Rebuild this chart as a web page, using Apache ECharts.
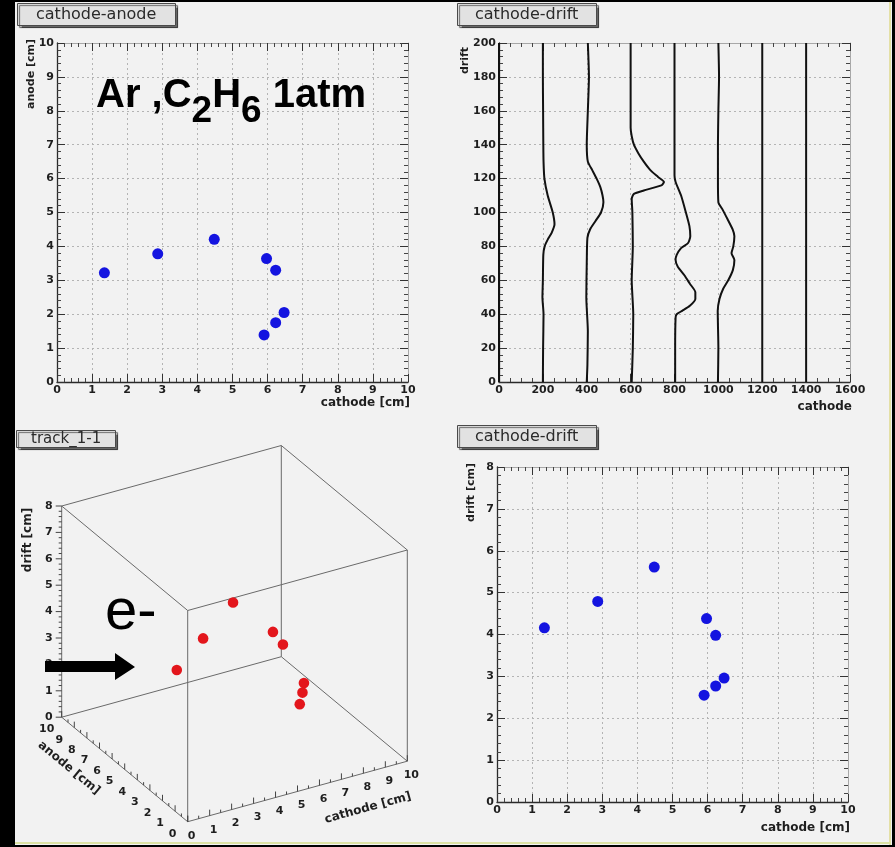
<!DOCTYPE html>
<html>
<head>
<meta charset="utf-8">
<script src="https://cdn.jsdelivr.net/npm/echarts@6/dist/echarts.min.js"></script>
<style>
html, body { margin: 0; padding: 0; background: #000; }
#chart { width: 895px; height: 847px; }
</style>
</head>
<body>
<div id="chart"></div>
<script>
// hits in the chamber [cm]
const cathode = [1.35, 2.87, 4.48, 5.97, 6.23, 6.47, 6.23, 5.9];
const anode = [3.22, 3.78, 4.21, 3.64, 3.30, 2.05, 1.75, 1.39];
const drift = [4.16, 4.79, 5.61, 4.38, 3.98, 2.96, 2.77, 2.55];

// cathode strip signals, [cathode, drift]
const wire0 = [[0, 0], [0, 200]];
const wire200 = [[200, 200], [200, 180], [201, 160], [202, 140], [203, 130], [207, 120], [222, 110], [245, 100], [253, 93], [240, 88], [222, 84], [208, 80], [202, 75], [200, 60], [198, 50], [203, 40], [201, 20], [200, 0]];
const wire400 = [[405, 200], [410, 180], [405, 160], [400, 140], [405, 130], [425, 125], [445, 120], [462, 115], [472, 110], [476, 106], [465, 100], [440, 95], [415, 90], [403, 85], [400, 70], [398, 50], [405, 30], [403, 10], [400, 0]];
const wire600 = [[600, 200], [600, 150], [605, 145], [615, 140], [635, 135], [660, 130], [690, 125], [725, 121], [752, 118], [740, 116], [660, 113], [615, 111], [605, 108], [608, 100], [610, 80], [605, 60], [612, 40], [610, 20], [605, 0]];
const wire800 = [[800, 200], [800, 160], [800, 140], [800, 122], [805, 118], [830, 110], [852, 100], [868, 92], [872, 86], [862, 82], [830, 79], [810, 75], [805, 72], [815, 68], [845, 63], [870, 58], [895, 53], [895, 49], [870, 45], [835, 42], [810, 40], [805, 38], [803, 20], [803, 0]];
const wire1000 = [[1000, 200], [1003, 180], [1000, 160], [998, 140], [998, 120], [1000, 106], [1018, 102], [1042, 96], [1065, 90], [1073, 86], [1068, 80], [1060, 76], [1073, 72], [1066, 66], [1045, 60], [1022, 55], [1005, 49], [997, 42], [1000, 20], [998, 0]];
const wire1200 = [[1200, 0], [1200, 200]];
const wire1400 = [[1400, 0], [1400, 200]];

// 3D axis labels
const driftLabels = [0, 1, 2, 3, 4, 5, 6, 7, 8];
const anodeLabels = [0, 1, 2, 3, 4, 5, 6, 7, 8, 9, 10];
const cathodeLabels = [0, 1, 2, 3, 4, 5, 6, 7, 8, 9, 10];

const chart = echarts.init(document.getElementById('chart'));

const tickFont = { fontFamily: 'DejaVu Sans', fontWeight: 'bold', fontSize: 11, color: '#1e1e1e' };
const nameFont = { fontFamily: 'DejaVu Sans', fontWeight: 'bold', fontSize: 12, color: '#1e1e1e' };

function frame(grid, min, max, step, minorSplit, side) {
  const labelled = side === 'bottom' || side === 'left';
  return {
    type: 'value', gridIndex: grid, position: side, min: min, max: max, interval: step,
    axisLine: { show: true, onZero: false, lineStyle: { color: labelled ? '#2a2a2a' : '#a8a8a8', width: labelled ? 1.3 : 1 } },
    axisTick: { show: true, inside: true, length: 8, lineStyle: { color: '#333' } },
    minorTick: { show: true, splitNumber: minorSplit, length: 4, lineStyle: { color: '#444' } },
    axisLabel: labelled ? Object.assign({ margin: 3, showMinLabel: true, showMaxLabel: true, hideOverlap: false,
      formatter: v => String(v) }, tickFont) : { show: false },
    splitLine: { show: labelled, lineStyle: { color: '#b4b4b4', type: [2, 3] } }
  };
}
function xName(text, drop) {
  return { name: text, nameLocation: 'end', nameGap: 2, nameMoveOverlap: false,
    nameTextStyle: Object.assign({ align: 'right', verticalAlign: 'top', padding: [drop, 0, 0, 0] }, nameFont) };
}
function yName(text, gap, shift) {
  return { name: text, nameLocation: 'end', nameGap: gap, nameRotate: 90, nameMoveOverlap: false,
    nameTextStyle: Object.assign({ align: 'right', verticalAlign: 'bottom', padding: [0, 0, shift, 0] }, tickFont) };
}

// oblique projection of the 3D box (panel track_1-1)
const box3d = { origin: [172.7, 391.7], stepC: [21.96, -6.05], stepA: [-12.6, -10.45], stepD: [0, -26.4] };
function project(api, c, a, d) {
  return api.coord([
    box3d.origin[0] + c * box3d.stepC[0] + a * box3d.stepA[0] + d * box3d.stepD[0],
    box3d.origin[1] + c * box3d.stepC[1] + a * box3d.stepA[1] + d * box3d.stepD[1]
  ]);
}
const cRange = [0, 10], aRange = [0, 10], dRange = [0, 8];
const corners = [];
cRange.forEach(c => aRange.forEach(a => dRange.forEach(d => corners.push([c, a, d]))));
const edges = [];
corners.forEach((p, i) => corners.forEach((q, j) => {
  if (j > i && p.filter((v, k) => v !== q[k]).length === 1) edges.push(p.concat(q));
}));
const ticks3d = [];
for (let i = 0; i <= 40; i++) ticks3d.push([0, i / 5, i % 5 === 0 ? 1 : 0]);
for (let i = 0; i <= 20; i++) ticks3d.push([1, i / 2, i % 2 === 0 ? 1 : 0]);
for (let i = 0; i <= 20; i++) ticks3d.push([2, i / 2, i % 2 === 0 ? 1 : 0]);
const labels3d = driftLabels.map(v => [0, v]).concat(anodeLabels.map(v => [1, v]), cathodeLabels.map(v => [2, v]));

const wireSeries = [wire0, wire200, wire400, wire600, wire800, wire1000, wire1200, wire1400].map(w => ({
  type: 'line', xAxisIndex: 2, yAxisIndex: 2, data: w, showSymbol: false, smooth: 0.2,
  lineStyle: { color: '#111', width: 2 }, z: 3
}));

// annotation "Ar ,C2H6 1atm"
const ctx = document.createElement('canvas').getContext('2d');
const noteParts = [['Ar ,C', 0], ['2', 1], ['H', 0], ['6', 1], [' 1atm', 0]];
let noteX = 96;
const noteTexts = noteParts.map(function (part) {
  const size = part[1] ? 37 : 40;
  const font = 'bold ' + size + 'px "Liberation Sans"';
  ctx.font = font;
  const el = { type: 'text', x: noteX, y: (part[1] ? 125 : 110) - 0.35 * size, z: 100,
    style: { text: part[0], font: font, fill: '#000', align: 'left', verticalAlign: 'middle' } };
  noteX += ctx.measureText(part[0]).width;
  return el;
});

const boxTitle = {
  backgroundColor: '#e2e2e2', borderColor: '#4a4a4a', borderWidth: 1,
  shadowColor: 'rgba(0,0,0,0.55)', shadowOffsetX: 2, shadowOffsetY: 2, shadowBlur: 1
};
function titleBox(text, left, top, size, pad) {
  return Object.assign({ text: text, left: left, top: top, padding: pad,
    textStyle: { fontFamily: 'DejaVu Sans', fontWeight: 'normal', fontSize: size, lineHeight: size + 3, color: '#2a2a2a' } }, boxTitle);
}

const title3d = { font: 'bold 12px "DejaVu Sans"', fill: '#1e1e1e', align: 'center', verticalAlign: 'middle' };
const pointStyle = { color: '#1414e0', opacity: 1 };

chart.setOption({
  backgroundColor: '#f2f2f2',
  animation: false,
  title: [
    titleBox('cathode-anode', 17, 3, 16, [2, 19]),
    titleBox('cathode-drift', 457, 3, 16, [2, 18]),
    titleBox('track_1-1', 16, 430, 15, [0, 15]),
    titleBox('cathode-drift', 457, 425, 16, [2, 18])
  ],
  grid: [
    { left: 57, top: 43, width: 351, height: 339, containLabel: false, outerBoundsMode: 'none' },
    { left: 499, top: 43, width: 351, height: 339, containLabel: false, outerBoundsMode: 'none' },
    { left: 15, top: 430, width: 430, height: 410, containLabel: false, outerBoundsMode: 'none' },
    { left: 497, top: 467, width: 351, height: 335, containLabel: false, outerBoundsMode: 'none' }
  ],
  xAxis: [
    Object.assign(frame(0, 0, 10, 1, 5, 'bottom'), xName('cathode [cm]', 15)),
    frame(0, 0, 10, 1, 5, 'top'),
    Object.assign(frame(1, 0, 1600, 200, 4, 'bottom'), xName('cathode', 19)),
    frame(1, 0, 1600, 200, 4, 'top'),
    { type: 'value', gridIndex: 2, min: 0, max: 430, show: false },
    Object.assign(frame(3, 0, 10, 1, 5, 'bottom'), xName('cathode [cm]', 20)),
    frame(3, 0, 10, 1, 5, 'top')
  ],
  yAxis: [
    Object.assign(frame(0, 0, 10, 1, 5, 'left'), yName('anode [cm]', 4, 20)),
    frame(0, 0, 10, 1, 5, 'right'),
    Object.assign(frame(1, 0, 200, 20, 5, 'left'), yName('drift', -4, 28)),
    frame(1, 0, 200, 20, 5, 'right'),
    { type: 'value', gridIndex: 2, min: 0, max: 410, inverse: true, show: false },
    Object.assign(frame(3, 0, 8, 1, 5, 'left'), yName('drift [cm]', 4, 20)),
    frame(3, 0, 8, 1, 5, 'right')
  ],
  series: [
    {
      type: 'scatter', xAxisIndex: 0, yAxisIndex: 0, symbolSize: 11,
      itemStyle: pointStyle, data: cathode.map((c, i) => [c, anode[i]])
    },
    ...wireSeries,
    {
      type: 'custom', xAxisIndex: 4, yAxisIndex: 4, data: edges, z: 2,
      renderItem: function (params, api) {
        const p = project(api, api.value(0), api.value(1), api.value(2));
        const q = project(api, api.value(3), api.value(4), api.value(5));
        return { type: 'line', shape: { x1: p[0], y1: p[1], x2: q[0], y2: q[1] }, style: { stroke: '#6a6a6a', lineWidth: 1 } };
      }
    },
    {
      type: 'custom', xAxisIndex: 4, yAxisIndex: 4, data: ticks3d, z: 2,
      renderItem: function (params, api) {
        const axis = api.value(0), v = api.value(1), len = api.value(2) ? 6 : 3;
        let p, q;
        if (axis === 0) { p = project(api, 0, 10, v); q = [p[0] - len, p[1]]; }
        else if (axis === 1) { p = project(api, 0, v, 0); q = [p[0], p[1] - len]; }
        else { p = project(api, v, 0, 0); q = [p[0], p[1] - len]; }
        return { type: 'line', shape: { x1: p[0], y1: p[1], x2: q[0], y2: q[1] }, style: { stroke: '#444', lineWidth: 1 } };
      }
    },
    {
      type: 'custom', xAxisIndex: 4, yAxisIndex: 4, data: labels3d, z: 2,
      renderItem: function (params, api) {
        const axis = api.value(0), v = api.value(1);
        let p, x, y, align = 'center';
        if (axis === 0) { p = project(api, 0, 10, v); x = p[0] - 9; y = p[1]; align = 'right'; }
        else if (axis === 1) { p = project(api, 0, v, 0); x = p[0] - 15; y = p[1] + 12; }
        else { p = project(api, v, 0, 0); x = p[0] + 4; y = p[1] + 14; }
        return { type: 'text', x: x, y: y,
          style: { text: String(v), font: 'bold 11px "DejaVu Sans"', fill: '#1e1e1e', align: align, verticalAlign: 'middle' } };
      }
    },
    {
      type: 'custom', xAxisIndex: 4, yAxisIndex: 4, z: 4,
      data: cathode.map((c, i) => [c, anode[i], drift[i]]),
      renderItem: function (params, api) {
        const p = project(api, api.value(0), api.value(1), api.value(2));
        return { type: 'circle', shape: { cx: p[0], cy: p[1], r: 5.3 }, style: { fill: '#e3161c' } };
      }
    },
    {
      type: 'scatter', xAxisIndex: 5, yAxisIndex: 5, symbolSize: 11,
      itemStyle: pointStyle, data: cathode.map((c, i) => [c, drift[i]])
    }
  ],
  graphic: [
    { type: 'rect', shape: { x: 0, y: 0, width: 15, height: 847 }, style: { fill: '#000' }, silent: true },
    { type: 'rect', shape: { x: 0, y: 0, width: 895, height: 2 }, style: { fill: '#000' }, silent: true },
    { type: 'rect', shape: { x: 892, y: 0, width: 3, height: 847 }, style: { fill: '#000' }, silent: true },
    { type: 'rect', shape: { x: 0, y: 845, width: 895, height: 2 }, style: { fill: '#000' }, silent: true },
    { type: 'rect', shape: { x: 889, y: 2, width: 2, height: 843 }, style: { fill: '#e4e0a6' }, silent: true },
    { type: 'rect', shape: { x: 15, y: 842, width: 876, height: 2 }, style: { fill: '#dce2a4' }, silent: true },
    ...noteTexts,
    { type: 'text', x: 105, y: 633 - 0.35 * 58, z: 100,
      style: { text: 'e-', font: '58px "Liberation Sans"', fill: '#000', align: 'left', verticalAlign: 'middle' } },
    { type: 'polygon', z: 100, shape: { points: [[45, 661], [115, 661], [115, 653], [135, 667], [115, 680], [115, 672], [45, 672]] }, style: { fill: '#000' } },
    { type: 'text', x: 28, y: 540, rotation: Math.PI / 2, style: Object.assign({ text: 'drift [cm]' }, title3d) },
    { type: 'text', x: 69, y: 768, rotation: -0.69, style: Object.assign({ text: 'anode [cm]' }, title3d) },
    { type: 'text', x: 368, y: 808, rotation: 0.27, style: Object.assign({ text: 'cathode [cm]' }, title3d) }
  ]
});
</script>
</body>
</html>
